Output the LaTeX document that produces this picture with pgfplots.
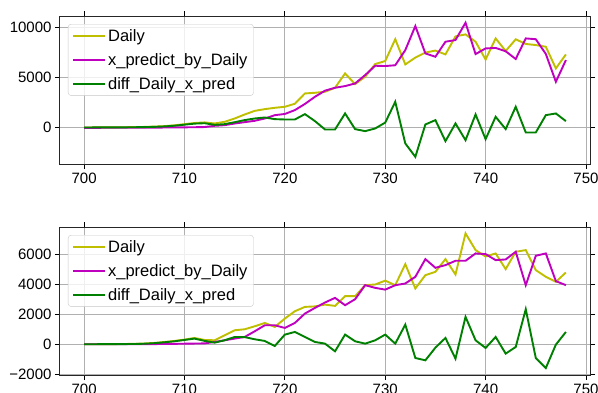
\documentclass[border=0pt]{standalone}
\usepackage{fontspec}
\setmainfont{Liberation Sans}
\usepackage{pgfplots}
\pgfplotsset{compat=1.18}
\usepackage{pgfplotstable}
\definecolor{my}{rgb}{0.75,0.75,0}
\definecolor{mm}{rgb}{0.75,0,0.75}
\definecolor{mg}{rgb}{0,0.5,0}
\definecolor{gridc}{HTML}{B0B0B0}

\pgfplotstableread{
x d p f
700 30 0 30
701 40 0 40
702 45 5 40
703 50 5 45
704 60 10 50
705 70 10 60
706 90 15 75
707 120 20 100
708 170 30 140
709 250 40 210
710 365 50 315
711 480 60 420
712 540 80 460
713 435 200 300
714 600 265 365
715 930 430 560
716 1330 565 770
717 1690 700 930
718 1860 930 1030
719 1995 1260 865
720 2095 1380 830
721 2400 1763 833
722 3423 2380 1365
723 3490 3090 668
724 3590 3700 -163
725 3990 3987 -163
726 5415 4153 1431
727 4353 4419 -130
728 5083 5249 -329
729 6350 6179 -63
730 6650 6150 520
731 8820 6230 2593
732 6311 7739 -1557
733 6990 10129 -2885
734 7490 7407 336
735 7690 7075 767
736 7308 8569 -1325
737 9100 8735 435
738 9300 10461 -1225
739 8569 7341 1331
740 6800 7905 -1125
741 8900 7950 1099
742 7650 7620 -129
743 8810 6850 2095
744 8350 8901 -461
745 8237 8820 -461
746 8071 7350 1265
747 5913 4585 1431
748 7307 6743 667
}\topdata

\pgfplotstableread{
x d p f
700 0 0 0
701 5 0 5
702 10 0 10
703 15 5 10
704 20 5 15
705 30 10 20
706 50 10 40
707 90 15 75
708 155 20 135
709 223 30 200
710 312 40 290
711 424 50 379
712 290 60 230
713 268 155 111
714 602 268 268
715 937 379 490
716 1003 490 480
717 1204 870 335
718 1427 1271 223
719 1160 1271 -112
720 1717 1093 647
721 2208 1427 825
722 2498 2052 490
723 2530 2430 156
724 2650 2788 45
725 2564 3100 -468
726 3211 2609 647
727 3211 3010 201
728 3947 3947 45
729 3992 3769 268
730 4250 3650 647
731 3947 3947 45
732 5352 4058 1316
733 3724 4505 -914
734 4616 5686 -1070
735 4839 5107 -223
736 5686 5285 424
737 4661 5575 -959
738 7404 5575 1829
739 6289 6066 268
740 5860 6021 -245
741 6066 5620 491
742 5018 5664 -624
743 6177 6177 -178
744 6289 3947 2342
745 4951 5910 -914
746 4505 6066 -1583
747 4170 4215 -22
748 4795 3947 825
}\botdata

\pgfplotsset{mystyle/.style={
  scale only axis, width=530pt, height=148pt,
  xmin=697.6, xmax=750.4,
  xtick={700,710,...,750},
  scaled ticks=false,
  grid=major, grid style={gridc, line width=0.9pt},
  axis line style={line width=1pt, black!85},
  tick align=outside, major tick length=5pt,
  tick style={black, line width=0.9pt},
  every tick label/.append style={font=\fontsize{15}{17}\selectfont},
  /pgf/number format/assume math mode=true,
  /pgf/number format/set thousands separator={},
  legend style={at={(0,1)}, anchor=north west, xshift=8pt, yshift=-8pt,
    draw=gridc!70, rounded corners=3pt, fill=white, fill opacity=0.8, text opacity=1,
    draw opacity=1,
    font=\fontsize{16.5}{18}\selectfont, row sep=6.5pt, inner xsep=4pt, inner ysep=3pt},
  legend cell align=left,
  legend image code/.code={\draw[##1] (0pt,0pt) -- (32pt,0pt);},
  every axis plot/.append style={line width=1.9pt},
}}

\begin{document}
\begin{tikzpicture}
\useasboundingbox (0,0) rectangle (598pt,-392pt);
\begin{axis}[mystyle, at={(60pt,-16pt)}, anchor=north west,
  ymin=-3600, ymax=11130, ytick={0,5000,10000}]
\addplot[my] table[x=x,y=d] {\topdata};
\addlegendentry{Daily}
\addplot[mm] table[x=x,y=p] {\topdata};
\addlegendentry{x\_predict\_by\_Daily}
\addplot[mg] table[x=x,y=f] {\topdata};
\addlegendentry{diff\_Daily\_x\_pred}
\end{axis}
\begin{axis}[mystyle, at={(60pt,-227pt)}, anchor=north west,
  ymin=-2050, ymax=7830, ytick={-2000,0,2000,4000,6000},
  yticklabels={−2000,0,2000,4000,6000}]
\addplot[my] table[x=x,y=d] {\botdata};
\addlegendentry{Daily}
\addplot[mm] table[x=x,y=p] {\botdata};
\addlegendentry{x\_predict\_by\_Daily}
\addplot[mg] table[x=x,y=f] {\botdata};
\addlegendentry{diff\_Daily\_x\_pred}
\end{axis}
\end{tikzpicture}
\end{document}
